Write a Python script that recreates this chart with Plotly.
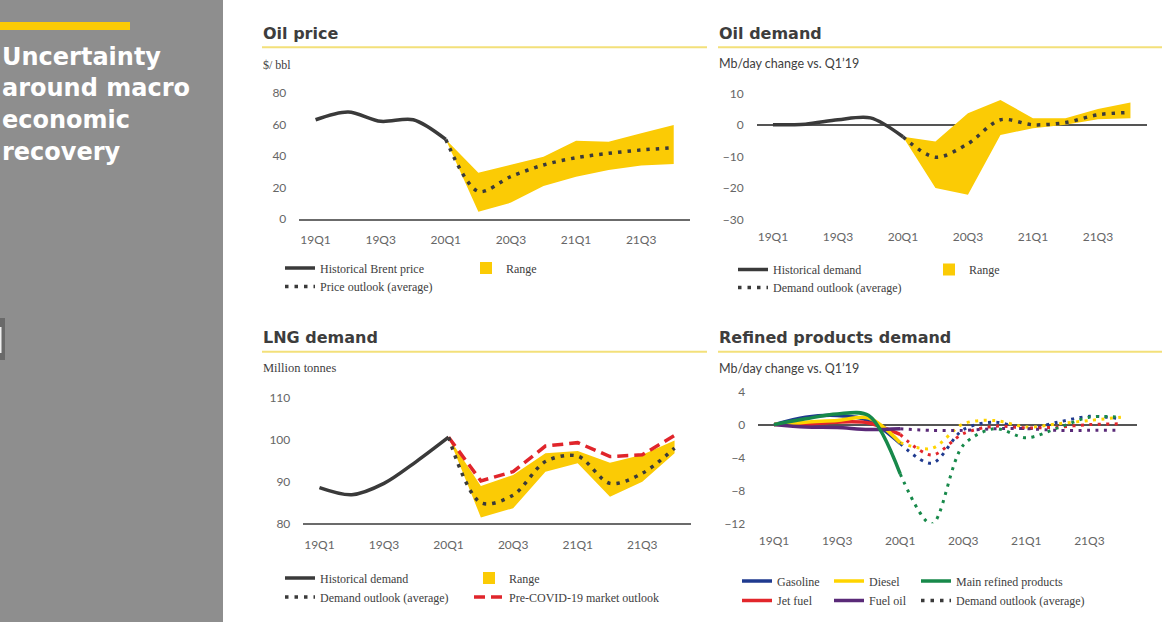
import plotly.graph_objects as go

W, H = 1166, 622

# ---------------- data ----------------
quarters = ["19Q1", "19Q2", "19Q3", "19Q4", "20Q1", "20Q2", "20Q3", "20Q4",
            "21Q1", "21Q2", "21Q3", "21Q4"]
tick_quarters = ["19Q1", "19Q3", "20Q1", "20Q3", "21Q1", "21Q3"]
hist_q = quarters[:5]
fcst_q = quarters[4:]

# Oil price ($/bbl)
oil_price_hist = [63, 68, 62, 63, 50.5]
oil_price_low = [50.5, 4.6, 10.4, 21.0, 26.9, 31.1, 33.9, 34.9]
oil_price_high = [50.5, 29.4, 34.5, 39.6, 49.7, 49.1, 54.5, 59.7]
oil_price_avg = [50.5, 17.5, 27.0, 34.3, 38.9, 41.7, 43.8, 45.3]

# Oil demand (Mb/day change vs Q1'19)
oil_dem_hist = [0, 0.2, 1.6, 2.2, -3.8]
oil_dem_low = [-3.8, -20.1, -22.2, -3.2, -1.1, 0.0, 1.8, 2.1]
oil_dem_high = [-3.8, -5.3, 3.7, 7.9, 2.1, 2.1, 5.0, 7.1]
oil_dem_avg = [-3.8, -10.3, -6.0, 1.6, 0.0, 0.7, 3.2, 3.9]

# LNG demand (million tonnes)
lng_hist = [88.5, 86.8, 89.5, 94.7, 100.5]
lng_low = [100.5, 81.4, 83.6, 92.3, 94.3, 86.3, 89.9, 96.7]
lng_high = [100.5, 88.9, 91.5, 96.7, 97.2, 94.4, 96.3, 99.7]
lng_avg = [100.5, 84.9, 86.7, 94.7, 96.0, 89.5, 91.9, 97.9]
lng_pre_covid = [100.5, 90.1, 92.3, 98.4, 99.2, 95.9, 96.3, 100.9]

# Refined products demand (Mb/day change vs Q1'19)
gasoline_hist = [0, 0.9, 1.1, 0.5, -2.3]
gasoline_out = [-2.3, -4.7, -0.6, 0.3, -0.5, 0.3, 1.0, 0.7]
diesel_hist = [0, 0.3, 0.5, 0.8, -2.2]
diesel_out = [-2.2, -2.9, 0.1, 0.5, -0.3, 0.1, 0.5, 0.9]
jet_hist = [0, 0.05, 0.3, 0.2, -1.2]
jet_out = [-1.2, -3.7, -1.1, -0.2, -0.4, -0.3, 0.0, 0.1]
fueloil_hist = [0, -0.3, -0.35, -0.6, -0.5]
fueloil_out = [-0.5, -0.7, -0.7, -0.5, -0.5, -0.7, -0.7, -0.7]
main_hist = [0, 0.7, 1.3, 1.1, -6.0]
main_out = [-6.0, -12.1, -2.5, -0.5, -1.6, -0.4, 0.9, 0.9]

# ---------------- style ----------------
DARK = "#3a3a3a"
YELLOW = "#FBCB05"
C_GAS = "#1F3A8F"
C_DIESEL = "#FFD400"
C_JET = "#E2262B"
C_FUEL = "#5A2A78"
C_MAIN = "#17894A"
RED = "#E0252B"
GRAY_PANEL = "#8E8E8E"
TITLE_C = "#3d3d3d"
TICK_FONT = dict(family="Lato", size=12, color="#666666")
SERIF = "Liberation Serif"


def px_x(p):
    return p / W


def px_y(p):
    return 1 - p / H


fig = go.Figure()

# legends: one legend per entry so positions are exact
legend_defs = {}
legend_count = [0]


def new_legend(text_x, center_y):
    legend_count[0] += 1
    n = legend_count[0]
    name = "legend" if n == 1 else f"legend{n}"
    legend_defs[name] = dict(
        x=px_x(text_x - 40), y=px_y(center_y - 1.5), xanchor="left", yanchor="middle",
        orientation="v", bgcolor="rgba(0,0,0,0)", borderwidth=0,
        font=dict(family=SERIF, size=12, color="#404040"),
        itemwidth=30, tracegroupgap=0, itemclick=False, itemdoubleclick=False,
    )
    return name


def add_range(xa, ya, low, high):
    fig.add_trace(go.Scatter(x=fcst_q, y=low, mode="lines", line=dict(width=0, color=YELLOW),
                             showlegend=False, hoverinfo="skip", xaxis=xa, yaxis=ya))
    fig.add_trace(go.Scatter(x=fcst_q, y=high, mode="lines", line=dict(width=0, color=YELLOW),
                             fill="tonexty", fillcolor=YELLOW, showlegend=False,
                             hoverinfo="skip", xaxis=xa, yaxis=ya))


def add_range_legend(xa, ya, leg):
    fig.add_trace(go.Scatter(x=[None], y=[None], mode="markers", name="Range",
                             marker=dict(symbol="square", size=12, color=YELLOW),
                             legend=leg, xaxis=xa, yaxis=ya))


def line(xa, ya, xs, ys, color, name=None, leg=None, dash=None, width=3.5, shape="spline"):
    fig.add_trace(go.Scatter(
        x=xs, y=ys, mode="lines", name=name,
        line=dict(color=color, width=width, dash=dash, shape=shape, smoothing=0.9),
        showlegend=leg is not None, legend=leg if leg else "legend",
        xaxis=xa, yaxis=ya))


DOT = "3.5px,6px"
SMALLDOT = "3px,5.5px"

# ---- Oil price (x, y)
add_range("x", "y", oil_price_low, oil_price_high)
line("x", "y", hist_q, oil_price_hist, DARK, "Historical Brent price", new_legend(320, 269.5))
add_range_legend("x", "y", new_legend(506, 269.5))
line("x", "y", fcst_q, oil_price_avg, DARK, "Price outlook (average)", new_legend(320, 288), dash=DOT)

# ---- Oil demand (x2, y2)
add_range("x2", "y2", oil_dem_low, oil_dem_high)
line("x2", "y2", hist_q, oil_dem_hist, DARK, "Historical demand", new_legend(773, 271))
add_range_legend("x2", "y2", new_legend(969, 271))
line("x2", "y2", fcst_q, oil_dem_avg, DARK, "Demand outlook (average)", new_legend(773, 289), dash=DOT)

# ---- LNG demand (x3, y3)
add_range("x3", "y3", lng_low, lng_high)
line("x3", "y3", hist_q, lng_hist, DARK, "Historical demand", new_legend(320, 579.5))
add_range_legend("x3", "y3", new_legend(509, 579.5))
line("x3", "y3", fcst_q, lng_pre_covid, RED, "Pre-COVID-19 market outlook", new_legend(509, 598.5),
     dash="11px,6px", shape="linear")
line("x3", "y3", fcst_q, lng_avg, DARK, "Demand outlook (average)", new_legend(320, 598.5), dash=DOT)

# ---- Refined products (x4, y4)
refined = [
    ("Gasoline", C_GAS, gasoline_hist, gasoline_out, (777, 582.5)),
    ("Jet fuel", C_JET, jet_hist, jet_out, (777, 602)),
    ("Diesel", C_DIESEL, diesel_hist, diesel_out, (869, 582.5)),
    ("Fuel oil", C_FUEL, fueloil_hist, fueloil_out, (869, 602)),
    ("Main refined products", C_MAIN, main_hist, main_out, (956, 582.5)),
]
for name, col, h, o, pos in refined:
    line("x4", "y4", fcst_q, o, col, dash=SMALLDOT, width=3)
for name, col, h, o, pos in refined:
    line("x4", "y4", hist_q, h, col, name, new_legend(*pos), width=3.5)
fig.add_trace(go.Scatter(x=[None], y=[None], mode="lines", name="Demand outlook (average)",
                         line=dict(color=DARK, width=3.5, dash=DOT),
                         legend=new_legend(956, 602), xaxis="x4", yaxis="y4"))

# ---------------- axes ----------------
def xaxis(domain, anchor, showline):
    return dict(domain=domain, anchor=anchor, type="category", categoryorder="array",
                categoryarray=quarters, range=[-0.5, 11.5], tickmode="array",
                tickvals=tick_quarters, ticktext=tick_quarters, showgrid=False,
                zeroline=False, ticks="", tickfont=TICK_FONT, ticklabelstandoff=9,
                showline=showline, linecolor="#6b6b6b", linewidth=2, fixedrange=True,
                automargin=False)


def yaxis(domain, anchor, rng, dtick, zeroline):
    return dict(domain=domain, anchor=anchor, range=rng, dtick=dtick, tick0=0,
                showgrid=False, zeroline=zeroline, zerolinecolor="#555555",
                zerolinewidth=1.5, ticks="", tickfont=TICK_FONT,
                ticklabelstandoff=12, showline=False, fixedrange=True, automargin=False)


layout = dict(
    width=W, height=H, margin=dict(l=0, r=0, t=0, b=0, autoexpand=False),
    paper_bgcolor="white", plot_bgcolor="rgba(0,0,0,0)",
    xaxis=xaxis([px_x(299.3), px_x(690)], "y", True),
    yaxis=yaxis([px_y(219), px_y(93)], "x", [0, 80], 20, False),
    xaxis2=xaxis([px_x(756.7), px_x(1146.7)], "y2", False),
    yaxis2=yaxis([px_y(219.3), px_y(93.3)], "x2", [-30, 10], 10, True),
    xaxis3=xaxis([px_x(303.3), px_x(690.7)], "y3", True),
    yaxis3=yaxis([px_y(523.3), px_y(397.3)], "x3", [80, 110], 10, False),
    xaxis4=xaxis([px_x(758.3), px_x(1136.7)], "y4", False),
    yaxis4=yaxis([px_y(523.3), px_y(391.7)], "x4", [-12, 4], 4, True),
)
layout.update(legend_defs)

# ---------------- decorations ----------------
shapes = [
    dict(type="rect", xref="paper", yref="paper", x0=0, x1=px_x(223), y0=0, y1=1,
         fillcolor=GRAY_PANEL, line=dict(width=0), layer="below"),
    dict(type="rect", xref="paper", yref="paper", x0=0, x1=px_x(130), y0=px_y(30), y1=px_y(22),
         fillcolor=YELLOW, line=dict(width=0)),
    dict(type="rect", xref="paper", yref="paper", x0=0, x1=px_x(5), y0=px_y(360), y1=px_y(318),
         fillcolor="#6a6a6a", line=dict(width=0)),
    dict(type="rect", xref="paper", yref="paper", x0=0, x1=px_x(1.5), y0=px_y(353), y1=px_y(327),
         fillcolor="#f0f0f0", line=dict(width=0)),
]
for (x0, x1, yy) in [(262, 707, 47.3), (718, 1162, 47.3), (262, 707, 351.7), (718, 1162, 351.7)]:
    shapes.append(dict(type="line", xref="paper", yref="paper", x0=px_x(x0), x1=px_x(x1),
                       y0=px_y(yy), y1=px_y(yy), line=dict(color="#F3E07A", width=2)))

annotations = []


def text(x, y, s, font, xanchor="left", yanchor="middle"):
    annotations.append(dict(xref="paper", yref="paper", x=px_x(x), y=px_y(y), text=s,
                            showarrow=False, xanchor=xanchor, yanchor=yanchor, font=font,
                            align="left", borderpad=0))


title_font = dict(family="DejaVu Sans", size=16, color=TITLE_C, weight="bold")
for s, yy in [("Uncertainty", 57), ("around macro", 88.5), ("economic", 120), ("recovery", 151.5)]:
    text(1, yy, s, dict(family="DejaVu Sans", size=24, color="white", weight="bold"))

text(262, 33, "Oil price", title_font)
text(718, 33, "Oil demand", title_font)
text(262, 337, "LNG demand", title_font)
text(718, 337, "Refined products demand", title_font)

text(262, 64.5, "$/ bbl", dict(family=SERIF, size=12, color="#404040"))
text(718, 64, "Mb/day change vs. Q1\u201919", dict(family="Lato", size=12.5, color="#404040"))
text(262, 368, "Million tonnes", dict(family=SERIF, size=12.5, color="#404040"))
text(718, 368, "Mb/day change vs. Q1\u201919", dict(family="Lato", size=12.5, color="#404040"))

layout["shapes"] = shapes
layout["annotations"] = annotations
fig.update_layout(**layout)

fig.write_html(
    "out.html",
    config={"displayModeBar": False},
    post_script=(
        "document.documentElement.style.margin='0';"
        "document.body.style.margin='0';document.body.style.padding='0';"
        "document.body.style.overflow='hidden';"
        "var gd=document.getElementById('{plot_id}');"
        "gd.style.position='fixed';gd.style.top='0px';gd.style.left='0px';"
    ),
)
